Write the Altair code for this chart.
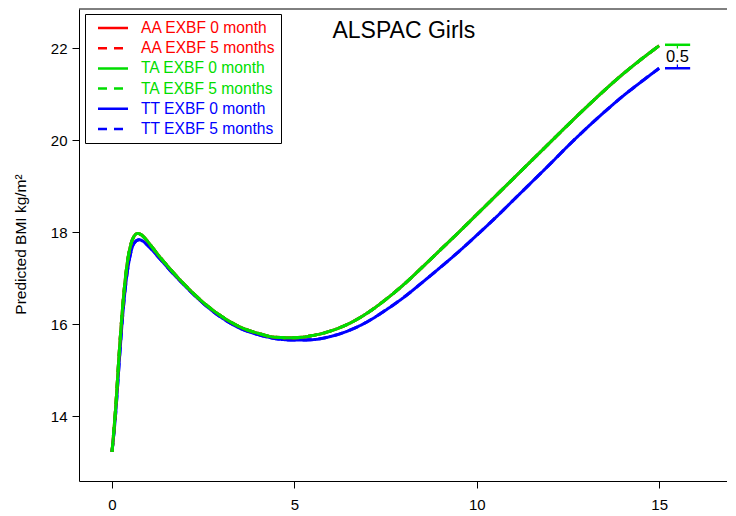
import altair as alt
import pandas as pd

# ---- data ----
series_labels = ["AA EXBF 0 month", "AA EXBF 5 months",
                 "TA EXBF 0 month", "TA EXBF 5 months",
                 "TT EXBF 0 month", "TT EXBF 5 months"]
series_colors = ["#FF0000", "#FF0000", "#00DD00", "#00DD00", "#0000FF", "#0000FF"]
series_dash = [[1, 0], [9, 7], [1, 0], [9, 7], [1, 0], [9, 7]]

age_a = [0, 0.1, 0.2, 0.3, 0.4, 0.5, 0.6, 0.7, 0.8, 0.95, 1.1, 1.3, 1.6, 1.9, 2.2, 2.5,
         3.0, 3.5, 4.0, 4.5, 5.0, 5.5, 6.0, 6.5, 7.0, 7.5, 8.0, 8.5, 9.0, 9.5, 10.0,
         10.5, 11.0, 11.5, 12.0, 12.5, 13.0, 13.5, 14.0, 14.5, 15.0]
bmi_a = [13.22, 14.18, 15.40, 16.45, 17.22, 17.68, 17.90, 17.97, 17.94, 17.82, 17.67,
         17.47, 17.19, 16.93, 16.69, 16.47, 16.17, 15.94, 15.80, 15.71, 15.70, 15.75,
         15.85, 16.01, 16.24, 16.53, 16.86, 17.23, 17.61, 17.99, 18.38, 18.77, 19.16,
         19.55, 19.94, 20.33, 20.71, 21.08, 21.43, 21.75, 22.05]

age_t = [0, 0.1, 0.2, 0.3, 0.4, 0.5, 0.6, 0.74, 0.85, 0.95, 1.1, 1.3, 1.6, 1.9, 2.2, 2.5,
         3.0, 3.5, 4.0, 4.5, 5.0, 5.5, 6.0, 6.5, 7.0, 7.5, 8.0, 8.5, 9.0, 9.5, 10.0,
         10.5, 11.0, 11.5, 12.0, 12.5, 13.0, 13.5, 14.0, 14.5, 15.0]
bmi_t = [13.22, 14.05, 15.20, 16.25, 17.02, 17.50, 17.75, 17.83, 17.80, 17.73, 17.61,
         17.43, 17.16, 16.91, 16.67, 16.45, 16.14, 15.91, 15.77, 15.68, 15.65, 15.66,
         15.73, 15.86, 16.05, 16.30, 16.58, 16.90, 17.23, 17.57, 17.93, 18.30, 18.69,
         19.08, 19.47, 19.87, 20.25, 20.61, 20.95, 21.26, 21.56]

curve_age = [age_a, age_a, age_a, age_a, age_t, age_t]
curve_bmi = [bmi_a, bmi_a, bmi_a, bmi_a, bmi_t, bmi_t]

# difference annotation at age 15
ann_start = [15.16, 15.16]
ann_end = [15.85, 15.85]
ann_level = [22.07, 21.56]
ann_tick_mid = [15.5, 15.5]
ann_tick_end = [21.99, 21.64]
ann_colors = ["#00DD00", "#0000FF"]
ann_text = ["0.5"]
ann_text_age = [15.5]
ann_text_bmi = [21.81]

title_text = ["ALSPAC Girls"]
title_age = [8.0]
title_bmi = [22.37]

x_ticks = [0, 5, 10, 15]
y_ticks = [14, 16, 18, 20, 22]
x_domain = [-0.905, 16.86]
y_domain = [12.587, 22.848]
y_title = "Predicted BMI kg/m²"

FONT = "Liberation Sans"

rows = []
for lab, xs, ys in zip(series_labels, curve_age, curve_bmi):
    for a, b in zip(xs, ys):
        rows.append({"series": lab, "age": a, "bmi": b})
df = pd.DataFrame(rows)

ann_df = pd.DataFrame({"age": ann_start, "age2": ann_end, "bmi": ann_level,
                       "mid": ann_tick_mid, "bmi2": ann_tick_end, "col": ann_colors})
txt_df = pd.DataFrame({"age": ann_text_age, "bmi": ann_text_bmi, "t": ann_text})
ttl_df = pd.DataFrame({"age": title_age, "bmi": title_bmi, "t": title_text})

xscale = alt.Scale(domain=x_domain, nice=False, zero=False)
yscale = alt.Scale(domain=y_domain, nice=False, zero=False)

X = alt.X("age:Q", scale=xscale, title=None,
          axis=alt.Axis(values=x_ticks, title=None, labelPadding=9, labelFlush=False))
Y = alt.Y("bmi:Q", scale=yscale, title=y_title,
          axis=alt.Axis(values=y_ticks, title=y_title, labelPadding=5,
                        titleX=-59, titleY=235, titleAngle=-90, titleAlign="center",
                        titleBaseline="middle", titleFontSize=15.5,
                        titleFontWeight="normal", titleFont=FONT, titleColor="black",
                        labelFlush=False))
Xp = alt.X("age:Q", scale=xscale, title=None)
Yp = alt.Y("bmi:Q", scale=yscale, title=y_title)

label_color_expr = ("indexof(datum.label, 'AA') == 0 ? '%s' : "
                    "(indexof(datum.label, 'TA') == 0 ? '%s' : '%s')"
                    % (series_colors[0], series_colors[2], series_colors[4]))

leg = alt.Legend(title=None, orient="none", legendX=6, legendY=5,
                 strokeColor="black", fillColor="white", padding=5,
                 symbolType="M-2,0H2", symbolSize=225, symbolStrokeWidth=2.5,
                 symbolOffset=14, labelOffset=19, rowPadding=2.2,
                 labelFont=FONT, labelFontSize=15.6,
                 labelColor={"expr": label_color_expr})

base = alt.Chart(df).mark_line(strokeWidth=3, interpolate="monotone").encode(
    x=X, y=Y,
    color=alt.Color("series:N", scale=alt.Scale(domain=series_labels, range=series_colors),
                    legend=leg),
    strokeDash=alt.StrokeDash("series:N",
                              scale=alt.Scale(domain=series_labels, range=series_dash),
                              legend=leg),
)

blue = base.transform_filter(alt.FieldOneOfPredicate(field="series", oneOf=series_labels[4:]))
red = base.transform_filter(alt.FieldOneOfPredicate(field="series", oneOf=series_labels[0:2]))
green = base.transform_filter(alt.FieldOneOfPredicate(field="series", oneOf=series_labels[2:4]))

seg = alt.Chart(ann_df).mark_rule(strokeWidth=2.5).encode(
    x=Xp, x2="age2:Q", y=Yp, color=alt.Color("col:N", scale=None))
tick = alt.Chart(ann_df).mark_rule(strokeWidth=1.2).encode(
    x=alt.X("mid:Q", scale=xscale, title=None), y=Yp, y2="bmi2:Q",
    color=alt.Color("col:N", scale=None))
diff_txt = alt.Chart(txt_df).mark_text(fontSize=16.5, font=FONT, color="black",
                                       align="center", baseline="middle").encode(
    x=Xp, y=Yp, text="t:N")
ttl = alt.Chart(ttl_df).mark_text(fontSize=23, font=FONT, color="black",
                                  align="center", baseline="middle").encode(
    x=Xp, y=Yp, text="t:N")
top_line = alt.Chart(ttl_df).mark_rule(color="black", strokeWidth=1).encode(
    x=alt.value(0), x2=alt.value(648), y=alt.value(0))

chart = alt.layer(blue, red, green, seg, tick, diff_txt, ttl, top_line).properties(
    width=648, height=472,
    autosize=alt.AutoSizeParams(type="none"),
    padding={"left": 71, "top": 1, "right": 0, "bottom": 32},
    background="white",
).configure_view(stroke=None).configure_axis(
    grid=False, domainColor="black", tickColor="black", labelColor="black",
    labelFont=FONT, labelFontSize=15, tickSize=7, domainWidth=1, tickWidth=1,
)

chart.save("out.html", embed_options={"renderer": "svg", "actions": False})
